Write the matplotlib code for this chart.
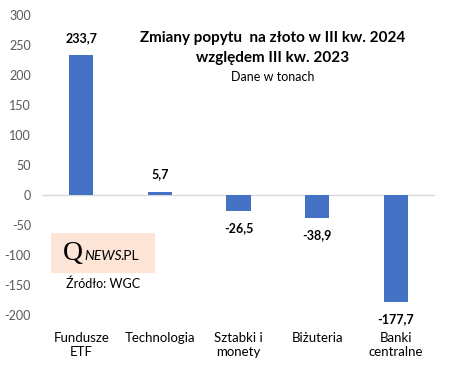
import matplotlib
matplotlib.use("Agg")
import matplotlib.pyplot as plt
from matplotlib.patches import Rectangle
from matplotlib.ticker import FixedLocator, FuncFormatter

categories = ["Fundusze\nETF", "Technologia", "Sztabki i\nmonety", "Biżuteria", "Banki\ncentralne"]
values = [233.7, 5.7, -26.5, -38.9, -177.7]
labels = ["233,7", "5,7", "-26,5", "-38,9", "-177,7"]
yticks = [300, 250, 200, 150, 100, 50, 0, -50, -100, -150, -200]

plt.rcParams['font.family'] = ['Lato', 'DejaVu Sans']
plt.rcParams['axes.unicode_minus'] = False

fig = plt.figure(figsize=(4.5, 3.7), dpi=100)
ax = fig.add_axes([42/450, 1-315/370, (435-42)/450, 300/370])

x = list(range(len(categories)))
ax.bar(x, values, width=0.31, color="#4472C4", zorder=2)
ax.set_xlim(-0.5, len(categories)-0.5)
ax.set_ylim(-200, 300)
ax.yaxis.set_major_locator(FixedLocator(yticks))
ax.yaxis.set_major_formatter(FuncFormatter(lambda v, p: f"{v:.0f}"))
ax.tick_params(axis='y', length=0, pad=8, labelsize=9, labelcolor="#595959")
ax.set_xticks([])
for s in ax.spines.values():
    s.set_visible(False)
ax.axhline(0, color="#D9D9D9", lw=1, zorder=1)

for xi, v, lab in zip(x, values, labels):
    if v >= 0:
        ax.annotate(lab, (xi, v), xytext=(0, 8), textcoords="offset points",
                    ha="center", va="bottom", fontsize=9, fontweight="bold", color="black")
    else:
        ax.annotate(lab, (xi, v), xytext=(0, -8), textcoords="offset points",
                    ha="center", va="top", fontsize=9, fontweight="bold", color="black")

for xi, c in zip(x, categories):
    ax.annotate(c, (xi, -200), xytext=(0, -12), textcoords="offset points",
                ha="center", va="top", fontsize=9.5, color="black", linespacing=1.2,
                annotation_clip=False)

fig.text(273/450, 1-38/370, "Zmiany popytu  na złoto w III kw. 2024", ha="center", va="center",
         fontsize=11, fontweight="bold")
fig.text(273/450, 1-58/370, "względem III kw. 2023", ha="center", va="center",
         fontsize=11, fontweight="bold")
fig.text(273/450, 1-77/370, "Dane w tonach", ha="center", va="center", fontsize=9)

fig.patches.append(Rectangle((51/450, 1-273/370), 104/450, 40/370, transform=fig.transFigure,
                             facecolor="#FCE4D6", edgecolor="none", zorder=0))
fig.text(63/450, 1-254/370, "Q", ha="left", va="center", fontsize=20, family="Liberation Serif")
fig.text(84/450, 1-256/370, "NEWS", ha="left", va="center", fontsize=10, family="Lato",
         style="italic")
fig.text(120/450, 1-256/370, ".PL", ha="left", va="center", fontsize=10)
fig.text(103/450, 1-284/370, "Źródło: WGC", ha="center", va="center", fontsize=9)

fig.savefig("out.png", dpi=100)
